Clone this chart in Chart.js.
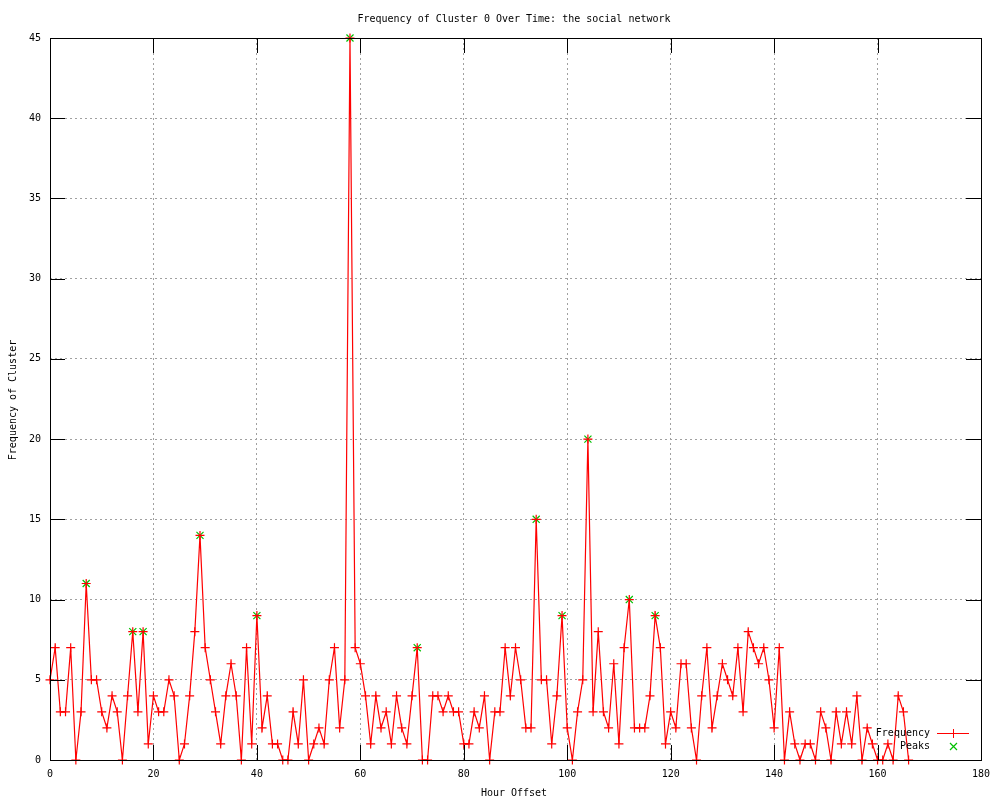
<!DOCTYPE html>
<html>
<head>
<meta charset="utf-8">
<script src="https://cdn.jsdelivr.net/npm/chart.js@4.4.1/dist/chart.umd.min.js"></script>
<style>
  html, body { margin: 0; padding: 0; background: #fff; }
  #wrap { width: 1000px; height: 800px; }
</style>
</head>
<body>
<div id="wrap"><canvas id="chart" width="1000" height="800"></canvas></div>
<script>
// frequency per hour offset, hour 0 .. 166
const freqValues = [
  5, 7, 3, 3, 7, 0, 3, 11, 5, 5, 3, 2, 4, 3, 0, 4, 8, 3, 8, 1,
  4, 3, 3, 5, 4, 0, 1, 4, 8, 14, 7, 5, 3, 1, 4, 6, 4, 0, 7, 1,
  9, 2, 4, 1, 1, 0, 0, 3, 1, 5, 0, 1, 2, 1, 5, 7, 2, 5, 45, 7,
  6, 4, 1, 4, 2, 3, 1, 4, 2, 1, 4, 7, 0, 0, 4, 4, 3, 4, 3, 3,
  1, 1, 3, 2, 4, 0, 3, 3, 7, 4, 7, 5, 2, 2, 15, 5, 5, 1, 4, 9,
  2, 0, 3, 5, 20, 3, 8, 3, 2, 6, 1, 7, 10, 2, 2, 2, 4, 9, 7, 1,
  3, 2, 6, 6, 2, 0, 4, 7, 2, 4, 6, 5, 4, 7, 3, 8, 7, 6, 7, 5,
  2, 7, 0, 3, 1, 0, 1, 1, 0, 3, 2, 0, 3, 1, 3, 1, 4, 0, 2, 1,
  0, 0, 1, 0, 4, 3, 0
];
const peakHours  = [7, 16, 18, 29, 40, 58, 71, 94, 99, 104, 112, 117];
const peakValues = [11, 8, 8, 14, 9, 45, 7, 15, 9, 20, 10, 9];

const xTicks = [0, 20, 40, 60, 80, 100, 120, 140, 160, 180];
const yTicks = [0, 5, 10, 15, 20, 25, 30, 35, 40, 45];

const titleText = 'Frequency of Cluster 0 Over Time: the social network';
const xTitle = 'Hour Offset';
const yTitle = 'Frequency of Cluster';
const FONT = '"DejaVu Sans Mono", monospace';
const RED = '#ff0000';
const GREEN = '#00c000';

const freqPoints = freqValues.map((v, i) => ({ x: i, y: v }));
const peakPoints = peakHours.map((h, i) => ({ x: h, y: peakValues[i] }));

// border, inward ticks, titles and legend in gnuplot style
const gnuplotDecor = {
  id: 'gnuplotDecor',
  afterDatasetsDraw(chart) {
    const { ctx, chartArea: a, scales } = chart;
    ctx.save();
    ctx.setLineDash([]);
    ctx.strokeStyle = '#000';
    ctx.lineWidth = 1;
    ctx.strokeRect(a.left + 0.5, a.top + 0.5, a.right - a.left, a.bottom - a.top);
    const tl = 15;
    ctx.beginPath();
    xTicks.forEach(t => {
      const x = Math.round(scales.x.getPixelForValue(t)) + 0.5;
      ctx.moveTo(x, a.bottom); ctx.lineTo(x, a.bottom - tl);
      ctx.moveTo(x, a.top); ctx.lineTo(x, a.top + tl);
    });
    yTicks.forEach(t => {
      const y = Math.round(scales.y.getPixelForValue(t)) + 0.5;
      ctx.moveTo(a.left, y); ctx.lineTo(a.left + tl, y);
      ctx.moveTo(a.right, y); ctx.lineTo(a.right - tl, y);
    });
    ctx.stroke();

    ctx.fillStyle = '#000';
    ctx.font = '10px ' + FONT;
    ctx.textBaseline = 'middle';
    ctx.textAlign = 'center';
    ctx.fillText(titleText, 514, 19);
    ctx.fillText(xTitle, 514, 793);
    ctx.save();
    ctx.translate(13, 400);
    ctx.rotate(-Math.PI / 2);
    ctx.fillText(yTitle, 0, 0);
    ctx.restore();

    // legend
    ctx.textAlign = 'right';
    ctx.fillText('Frequency', 930, 733);
    ctx.fillText('Peaks', 930, 746);

    ctx.fillStyle = RED;
    ctx.fillRect(937, 733, 32, 1);
    ctx.fillRect(953, 729, 1, 9);
    ctx.strokeStyle = GREEN;
    ctx.lineWidth = 1.2;
    ctx.beginPath();
    ctx.moveTo(950, 743); ctx.lineTo(957, 750);
    ctx.moveTo(957, 743); ctx.lineTo(950, 750);
    ctx.stroke();
    ctx.restore();
  }
};

new Chart(document.getElementById('chart').getContext('2d'), {
  type: 'line',
  data: {
    datasets: [
      {
        label: 'Frequency', data: freqPoints,
        borderColor: RED, borderWidth: 1.2, tension: 0,
        pointStyle: 'cross', pointRadius: 4.5, pointBorderColor: RED,
        pointBorderWidth: 1.2, clip: false
      },
      {
        label: 'Peaks', data: peakPoints, showLine: false,
        pointStyle: 'crossRot', pointRadius: 5, pointBorderColor: GREEN,
        pointBorderWidth: 1.2, clip: false
      }
    ]
  },
  options: {
    responsive: false, animation: false,
    layout: { padding: { left: 0, right: 19, top: 38, bottom: 0 } },
    plugins: { legend: { display: false }, tooltip: { enabled: false } },
    scales: {
      x: {
        type: 'linear', min: 0, max: 180,
        afterFit: s => { s.height = 40; },
        afterBuildTicks: s => { s.ticks = xTicks.map(v => ({ value: v })); },
        ticks: { color: '#000', font: { family: FONT, size: 10 }, padding: 8, maxRotation: 0 },
        grid: { color: '#a0a0a0', lineWidth: 1, drawTicks: false },
        border: { display: false, dash: [2, 3] }
      },
      y: {
        min: 0, max: 45,
        afterFit: s => { s.width = 50; },
        afterBuildTicks: s => { s.ticks = yTicks.map(v => ({ value: v })); },
        ticks: { color: '#000', font: { family: FONT, size: 10 }, padding: 9 },
        grid: { color: '#a0a0a0', lineWidth: 1, drawTicks: false },
        border: { display: false, dash: [2, 3] }
      }
    }
  },
  plugins: [gnuplotDecor]
});
</script>
</body>
</html>
